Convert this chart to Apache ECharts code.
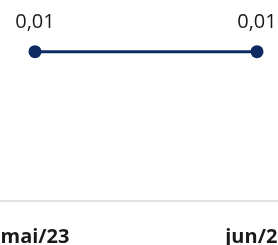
<!DOCTYPE html>
<html>
<head>
<meta charset="utf-8">
<script src="https://cdn.jsdelivr.net/npm/echarts@6/dist/echarts.min.js"></script>
<style>
html,body{margin:0;padding:0;background:#fff;}
#c{width:278px;height:245px;}
</style>
</head>
<body>
<div id="c"></div>
<script>
var categories = ['mai/23', 'jun/23'];
var values = [0.01, 0.01];

var chart = echarts.init(document.getElementById('c'), null, {renderer: 'canvas'});
chart.setOption({
  animation: false,
  grid: [
    {left: 35, right: 21, top: 21.8, bottom: 44, containLabel: false, outerBoundsMode: 'none'},
    {left: 0, right: 0, top: 21.8, bottom: 44, containLabel: false, outerBoundsMode: 'none'}
  ],
  xAxis: [{
    type: 'category',
    gridIndex: 0,
    data: categories,
    boundaryGap: false,
    axisLine: {show: false},
    axisTick: {show: false},
    axisLabel: {
      interval: 0,
      margin: 26,
      color: '#1a1a1a',
      fontWeight: 'bold',
      fontSize: 20,
      fontFamily: 'Open Sans'
    },
    splitLine: {show: false}
  }, {
    type: 'category',
    gridIndex: 1,
    data: categories,
    axisLine: {show: true, lineStyle: {color: '#d9d9d9', width: 1.5}},
    axisTick: {show: false},
    axisLabel: {show: false},
    splitLine: {show: false}
  }],
  yAxis: [{
    type: 'value',
    gridIndex: 0,
    min: 0,
    max: 0.012,
    show: false
  }, {
    type: 'value',
    gridIndex: 1,
    min: 0,
    max: 0.012,
    show: false
  }],
  series: [{
    type: 'line',
    xAxisIndex: 0,
    yAxisIndex: 0,
    data: values,
    symbol: 'circle',
    symbolSize: 13,
    lineStyle: {color: '#0e2a63', width: 3},
    itemStyle: {color: '#0e2a63'},
    label: {
      show: true,
      position: 'top',
      distance: 13,
      color: '#1a1a1a',
      fontSize: 20,
      fontFamily: 'Open Sans',
      formatter: function (p) { return p.value.toFixed(2).replace('.', ','); }
    }
  }]
});
</script>
</body>
</html>
